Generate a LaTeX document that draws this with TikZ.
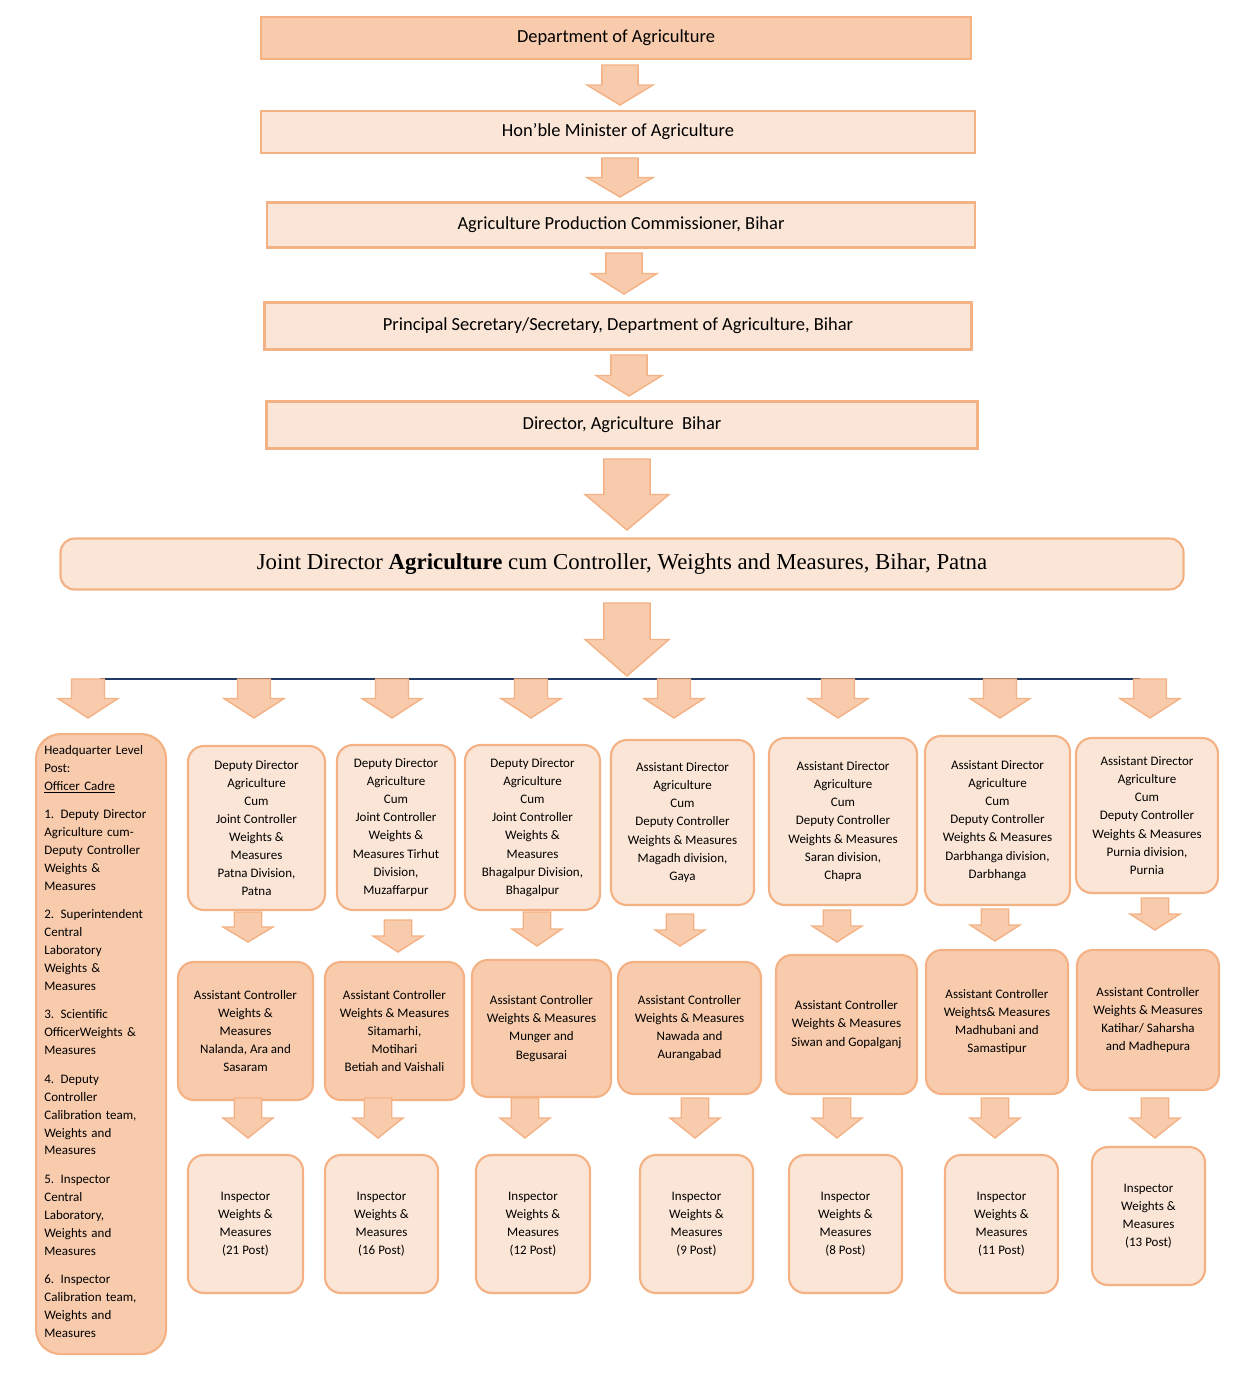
\documentclass[tikz,border=0pt]{standalone}
\usepackage{fontspec}
\setmainfont{Carlito}
\newfontfamily\serifjd{Liberation Serif}
\usepackage{tikz}

\definecolor{peachdark}{HTML}{F8CBAD}
\definecolor{peachlight}{HTML}{FBE5D6}
\definecolor{peachedge}{HTML}{F4B183}
\definecolor{linenavy}{HTML}{1F3864}

\tikzset{
  topbox/.style={draw=peachedge, line width=1.2pt, fill=peachlight, inner sep=0pt,
    font=\fontsize{10.5}{12}\selectfont},
  cbox/.style={draw=peachedge, line width=1.2pt, rounded corners=9pt, inner sep=0pt,
    align=center, font=\fontsize{7.4}{10.3}\selectfont},
  lightbox/.style={cbox, fill=peachlight},
  darkbox/.style={cbox, fill=peachdark},
}

% block arrow: centre x, top y, bottom y, half width of head
\newcommand{\blockarrow}[4]{%
  \pgfmathsetmacro{\ym}{#2+0.5*(#3-#2)}
  \pgfmathsetmacro{\sh}{0.55*#4}
  \draw[peachedge, fill=peachdark, line width=0.8pt, line join=miter]
    (#1-\sh,#2) -- (#1+\sh,#2) -- (#1+\sh,\ym) -- (#1+#4,\ym) -- (#1,#3)
    -- (#1-#4,\ym) -- (#1-\sh,\ym) -- cycle;}

\begin{document}
\begin{tikzpicture}[x=0.02cm, y=-0.02cm]
\useasboundingbox (0,0) rectangle (1240,1390);

% Top chain
\node[topbox, fill=peachdark, minimum width=710*0.02cm, minimum height=42*0.02cm] (dept) at (616,38) {Department of Agriculture};
\node[topbox, minimum width=714*0.02cm, minimum height=42*0.02cm] (minister) at (618,132) {Hon’ble Minister of Agriculture};
\node[topbox, minimum width=708*0.02cm, minimum height=45*0.02cm] (apc) at (621,225) {Agriculture Production Commissioner, Bihar};
\node[topbox, minimum width=707*0.02cm, minimum height=47*0.02cm] (secy) at (618,326) {Principal Secretary/Secretary, Department of Agriculture, Bihar};
\node[topbox, minimum width=711*0.02cm, minimum height=47*0.02cm] (director) at (622,425) {Director, Agriculture~~Bihar};
\node[topbox, rounded corners=8pt, minimum width=1123*0.02cm, minimum height=51*0.02cm,
  font=\serifjd\fontsize{13}{15}\selectfont] (joint) at (622,564)
  {Joint Director \textbf{Agriculture} cum Controller, Weights and Measures, Bihar, Patna};

\blockarrow{620}{65}{105}{33}
\blockarrow{620}{158}{197}{33}
\blockarrow{624}{253}{294}{33}
\blockarrow{629}{355}{396}{33}
\blockarrow{627}{459}{530}{42}
\blockarrow{627}{603}{676}{42}

% Branch line
\draw[linenavy, line width=1.5pt] (100,679) -- (1140,679);
\foreach \x in {88,254,392,531,674,838,1000,1150} {
  \blockarrow{\x}{679}{718}{30}
}

% Headquarter column
\node[darkbox, rounded corners=14pt, minimum width=130*0.02cm, minimum height=620*0.02cm,
  anchor=north west] (hq) at (35,733) {};
\node[anchor=north west, align=left, text width=120*0.02cm, inner sep=0pt,
  font=\fontsize{7.4}{10.2}\selectfont] (hqtext) at (44,745)
  {Headquarter Level\\Post:\\\underline{Officer Cadre}\\[6pt]
   1. Deputy Director\\Agriculture cum-\\Deputy Controller\\Weights \&\\Measures\\[6pt]
   2. Superintendent\\Central\\Laboratory\\Weights \&\\Measures\\[6pt]
   3. Scientific\\OfficerWeights \&\\Measures\\[6pt]
   4. Deputy\\Controller\\Calibration team,\\Weights and\\Measures\\[6pt]
   5. Inspector\\Central\\Laboratory,\\Weights and\\Measures\\[6pt]
   6. Inspector\\Calibration team,\\Weights and\\Measures};

% Row 1: divisional heads
\foreach \n/\xa/\xb/\ya/\yb/\txt in {
  1/188/325/746/910/{Deputy Director\\Agriculture\\Cum\\Joint Controller\\Weights \&\\Measures\\Patna Division,\\Patna},
  2/337/455/745/910/{Deputy Director\\Agriculture\\Cum\\Joint Controller\\Weights \&\\Measures Tirhut\\Division,\\Muzaffarpur},
  3/465/600/745/910/{Deputy Director\\Agriculture\\Cum\\Joint Controller\\Weights \&\\Measures\\Bhagalpur Division,\\Bhagalpur},
  4/611/754/740/905/{Assistant Director\\Agriculture\\Cum\\Deputy Controller\\Weights \& Measures\\Magadh division,\\Gaya},
  5/769/917/738/905/{Assistant Director\\Agriculture\\Cum\\Deputy Controller\\Weights \& Measures\\Saran division,\\Chapra},
  6/925/1070/736/905/{Assistant Director\\Agriculture\\Cum\\Deputy Controller\\Weights \& Measures\\Darbhanga division,\\Darbhanga},
  7/1076/1218/738/893/{Assistant Director\\Agriculture\\Cum\\Deputy Controller\\Weights \& Measures\\Purnia division,\\Purnia}} {
  \node[lightbox, minimum width={(\xb-\xa)*0.02cm}, minimum height={(\yb-\ya)*0.02cm}]
    (div\n) at ({(\xa+\xb)/2},{(\ya+\yb)/2}) {\txt};
}

% Row 2: assistant controllers
\foreach \n/\xa/\xb/\ya/\yb/\txt in {
  1/178/313/962/1100/{Assistant Controller\\Weights \&\\Measures\\Nalanda, Ara and\\Sasaram},
  2/325/464/962/1100/{Assistant Controller\\Weights \& Measures\\Sitamarhi,\\Motihari\\Betiah and Vaishali},
  3/472/611/960/1097/{Assistant Controller\\Weights \& Measures\\Munger and\\Begusarai},
  4/618/761/962/1094/{Assistant Controller\\Weights \& Measures\\Nawada and\\Aurangabad},
  5/776/917/955/1094/{Assistant Controller\\Weights \& Measures\\Siwan and Gopalganj},
  6/926/1068/950/1094/{Assistant Controller\\Weights\& Measures\\Madhubani and\\Samastipur},
  7/1077/1219/950/1090/{Assistant Controller\\Weights \& Measures\\Katihar/ Saharsha\\and Madhepura}} {
  \node[darkbox, minimum width={(\xb-\xa)*0.02cm}, minimum height={(\yb-\ya)*0.02cm}]
    (ac\n) at ({(\xa+\xb)/2},{(\ya+\yb)/2}) {\txt};
}

% Row 3: inspectors
\foreach \n/\xa/\xb/\ya/\yb/\post in {
  1/188/303/1155/1293/21, 2/325/438/1155/1293/16, 3/476/590/1155/1293/12,
  4/640/753/1155/1293/9, 5/789/902/1155/1293/8, 6/945/1058/1155/1293/11,
  7/1092/1205/1147/1285/13} {
  \node[lightbox, minimum width={(\xb-\xa)*0.02cm}, minimum height={(\yb-\ya)*0.02cm}]
    (insp\n) at ({(\xa+\xb)/2},{(\ya+\yb)/2}) {Inspector\\Weights \&\\Measures\\(\post\ Post)};
}

% Arrows between rows
\foreach \x/\ya/\yb in {248/912/942, 398/920/952, 537/912/946, 680/914/946, 837/910/942, 995/909/941, 1155/898/930} {
  \blockarrow{\x}{\ya}{\yb}{25}
}
\foreach \x in {248,378,525,695,837,995,1155} {
  \blockarrow{\x}{1098}{1138}{25}
}
\end{tikzpicture}
\end{document}
